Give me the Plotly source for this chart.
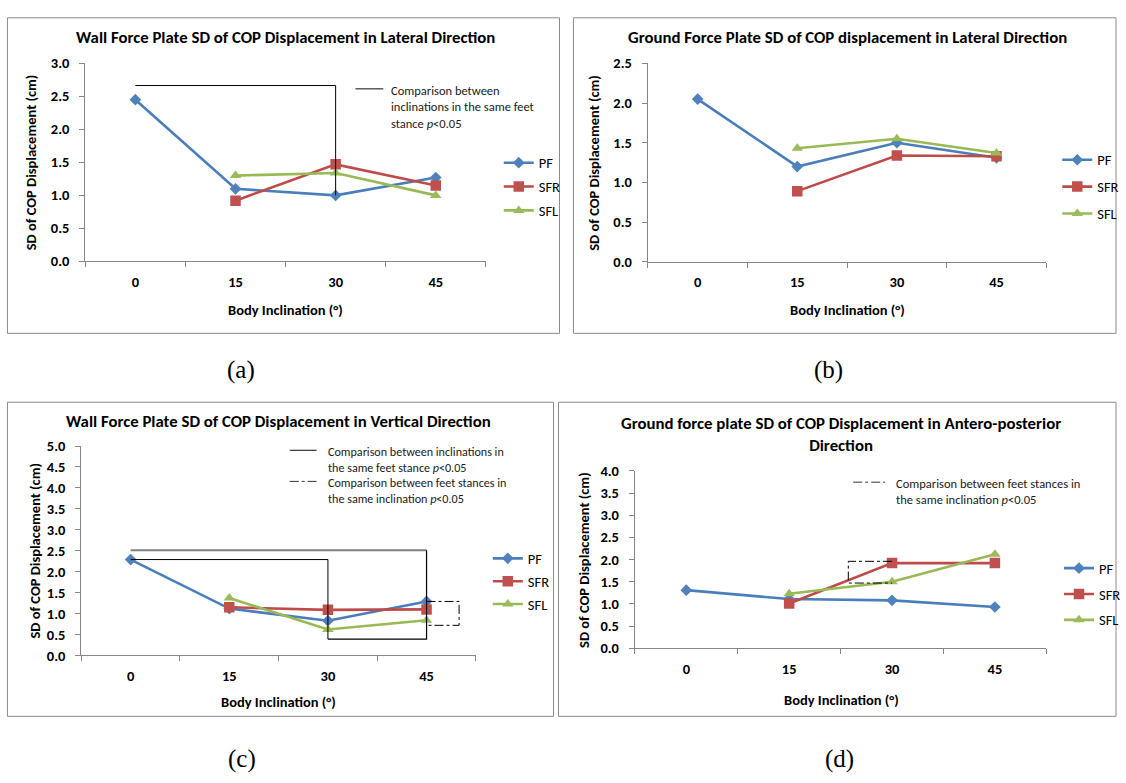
import plotly.graph_objects as go

W, H = 1126, 783

categories = ["0", "15", "30", "45"]
series_names = ["PF", "SFR", "SFL"]

a_pf = [2.45, 1.10, 1.00, 1.27]
a_sfr = [None, 0.92, 1.47, 1.15]
a_sfl = [None, 1.30, 1.34, 1.00]

b_pf = [2.05, 1.20, 1.50, 1.31]
b_sfr = [None, 0.89, 1.34, 1.33]
b_sfl = [None, 1.43, 1.55, 1.37]

c_pf = [2.29, 1.12, 0.83, 1.29]
c_sfr = [None, 1.15, 1.09, 1.10]
c_sfl = [None, 1.37, 0.62, 0.84]

d_pf = [1.31, 1.11, 1.08, 0.93]
d_sfr = [None, 1.01, 1.92, 1.92]
d_sfl = [None, 1.23, 1.50, 2.12]

titles = {
    "a": "Wall Force Plate SD of COP Displacement in Lateral Direction",
    "b": "Ground Force Plate SD of COP displacement in Lateral Direction",
    "c": "Wall Force Plate SD of COP Displacement in Vertical Direction",
    "d": "Ground force plate SD of COP Displacement in Antero-posterior<br>Direction",
}
x_title = "Body Inclination (°)"
y_title = "SD of COP Displacement (cm)"
captions = ["(a)", "(b)", "(c)", "(d)"]

FONT = "Calibri, Carlito, Lato, sans-serif"
COL = {"PF": "#4A7EBB", "SFR": "#BE4B48", "SFL": "#98B954"}
MCOL = {"PF": "#4F81BD", "SFR": "#C0504D", "SFL": "#9BBB59"}
SYM = {"PF": "diamond", "SFR": "square", "SFL": "triangle-up"}
MSIZE = {"PF": 9, "SFR": 10.5, "SFL": 10}
AXC = "#868686"

TITLE_SIZE = 16.8
AXTITLE_SIZE = 14.5
TICK_SIZE = 14.5
LEG_SIZE = 14.5
NOTE_SIZE = 12.5

def X(px):
    return px / W

def Y(py):
    return 1 - py / H

# panel geometry (pixels)
panels = [
    dict(key="a", xs=(85.7, 488), ys=(55.7, 258.3), ymax=3.0,
         data=(a_pf, a_sfr, a_sfl), box=(7.5, 9, 562, 332),
         tpos=(287, 29), xt=(287, 308), yt=(32, 157), leg=(501, 141), gap=2,
         cap=(242, 370)),
    dict(key="b", xs=(650.7, 1051), ys=(55.7, 258.7), ymax=2.5,
         data=(b_pf, b_sfr, b_sfl), box=(576, 9, 1121, 332),
         tpos=(851, 29), xt=(851, 308), yt=(597, 157), leg=(1062, 138), gap=5,
         cap=(832, 370)),
    dict(key="c", xs=(81.7, 478), ys=(447.3, 661.7), ymax=5.0,
         data=(c_pf, c_sfr, c_sfl), box=(7.5, 402.5, 556, 724),
         tpos=(280, 422), xt=(280, 709), yt=(35, 554.5), leg=(490, 546), gap=1,
         cap=(243, 768)),
    dict(key="d", xs=(637.7, 1051), ys=(472.7, 654.3), ymax=4.0,
         data=(d_pf, d_sfr, d_sfl), box=(561, 402.5, 1121, 724),
         tpos=(845, 435), xt=(845, 707), yt=(586, 563.5), leg=(1064, 556), gap=4,
         cap=(843, 768)),
]

fig = go.Figure()
layout = dict(width=W, height=H, margin=dict(l=0, r=0, t=0, b=0),
              paper_bgcolor="white", plot_bgcolor="rgba(0,0,0,0)",
              font=dict(family=FONT, color="#000000"), showlegend=True)
annotations = []
shapes = []

for i, p in enumerate(panels):
    n = "" if i == 0 else str(i + 1)
    xa, ya = "x" + n, "y" + n
    legname = "legend" + n
    for s, vals in zip(series_names, p["data"]):
        fig.add_trace(go.Scatter(
            x=list(range(len(categories))), y=vals, name=s, mode="lines+markers",
            xaxis=xa, yaxis=ya, legend=legname, legendgroup=p["key"] + s,
            line=dict(color=COL[s], width=2.6),
            marker=dict(symbol=SYM[s], size=MSIZE[s], color=MCOL[s],
                        line=dict(width=0)),
            connectgaps=False, hoverinfo="x+y+name"))
    layout["xaxis" + n] = dict(
        domain=[X(p["xs"][0]), X(p["xs"][1])], anchor=ya,
        range=[-0.5, 3.5], tickvals=[0, 1, 2, 3], ticktext=categories,
        ticks="", showline=True, linecolor=AXC, linewidth=1,
        showgrid=False, zeroline=False, ticklabelstandoff=7,
        tickfont=dict(size=TICK_SIZE, weight="bold", family=FONT),
        minor=dict(tickvals=[-0.5, 0.5, 1.5, 2.5, 3.5], ticks="outside",
                   ticklen=5, tickcolor=AXC, showgrid=False),
        fixedrange=True)
    layout["yaxis" + n] = dict(
        domain=[Y(p["ys"][1]), Y(p["ys"][0])], anchor=xa,
        range=[0, p["ymax"]], dtick=0.5, tickformat=".1f",
        ticks="outside", ticklen=5, tickcolor=AXC,
        showline=True, linecolor=AXC, linewidth=1,
        showgrid=False, zeroline=False, ticklabelstandoff=7,
        tickfont=dict(size=TICK_SIZE, weight="bold", family=FONT),
        fixedrange=True)
    layout[legname] = dict(
        x=X(p["leg"][0]), y=Y(p["leg"][1]), xanchor="left", yanchor="top",
        bgcolor="rgba(0,0,0,0)", borderwidth=0, tracegroupgap=p["gap"],
        font=dict(size=LEG_SIZE, family=FONT), itemwidth=30)
    # border
    x0, y0, x1, y1 = p["box"]
    shapes.append(dict(type="rect", xref="paper", yref="paper",
                       x0=X(x0), x1=X(x1), y0=Y(y1), y1=Y(y0),
                       line=dict(color="#8c8c8c", width=1), layer="below"))
    annotations.append(dict(text=titles[p["key"]], x=X(p["tpos"][0]), y=Y(p["tpos"][1]),
                            xref="paper", yref="paper", showarrow=False,
                            xanchor="center", yanchor="middle",
                            font=dict(size=TITLE_SIZE, weight="bold", family=FONT)))
    annotations.append(dict(text=x_title, x=X(p["xt"][0]), y=Y(p["xt"][1]),
                            xref="paper", yref="paper", showarrow=False,
                            xanchor="center", yanchor="middle",
                            font=dict(size=AXTITLE_SIZE, weight="bold", family=FONT)))
    annotations.append(dict(text=y_title, x=X(p["yt"][0]), y=Y(p["yt"][1]),
                            xref="paper", yref="paper", showarrow=False,
                            textangle=-90, xanchor="center", yanchor="middle",
                            font=dict(size=AXTITLE_SIZE, weight="bold", family=FONT)))
    annotations.append(dict(text=captions[i], x=X(p["cap"][0]), y=Y(p["cap"][1]),
                            xref="paper", yref="paper", showarrow=False,
                            xanchor="center", yanchor="middle",
                            font=dict(size=25, family="Liberation Serif, Times New Roman, serif")))

NOTE_FONT = dict(size=NOTE_SIZE, family=FONT, color="#1a1a1a")

# ---- significance brackets (data coordinates) ----
# panel a
shapes.append(dict(type="path", xref="x", yref="y",
                   path="M 0,2.665 L 2,2.665 L 2,1.0",
                   line=dict(color="#000000", width=1)))
shapes.append(dict(type="line", xref="paper", yref="paper",
                   x0=X(357), x1=X(385), y0=Y(81.7), y1=Y(81.7),
                   line=dict(color="#333333", width=1.2)))
annotations.append(dict(text="Comparison between<br>inclinations in the same feet<br>stance <i>p</i><0.05",
                        x=X(391), y=Y(74), xref="paper", yref="paper", showarrow=False,
                        xanchor="left", yanchor="top", align="left", font=NOTE_FONT))
# panel c
shapes.append(dict(type="line", xref="x3", yref="y3", x0=0, x1=3, y0=2.51, y1=2.51,
                   line=dict(color="#7f7f7f", width=2)))
shapes.append(dict(type="path", xref="x3", yref="y3",
                   path="M 3,2.51 L 3,0.39 L 2,0.39",
                   line=dict(color="#000000", width=1.2)))
shapes.append(dict(type="path", xref="x3", yref="y3",
                   path="M 0,2.29 L 2,2.29 L 2,0.39",
                   line=dict(color="#000000", width=1)))
shapes.append(dict(type="path", xref="x3", yref="y3",
                   path="M 3,1.29 L 3.33,1.29 L 3.33,0.72 L 3,0.72",
                   line=dict(color="#000000", width=1, dash="dashdot")))
shapes.append(dict(type="line", xref="paper", yref="paper",
                   x0=X(291), x1=X(318), y0=Y(451.7), y1=Y(451.7),
                   line=dict(color="#333333", width=1.2)))
shapes.append(dict(type="line", xref="paper", yref="paper",
                   x0=X(291), x1=X(318), y0=Y(483.5), y1=Y(483.5),
                   line=dict(color="#333333", width=1, dash="dashdot")))
annotations.append(dict(text=("Comparison between inclinations in<br>the same feet stance <i>p</i><0.05"
                              "<br>Comparison between feet stances in<br>the same inclination <i>p</i><0.05"),
                        x=X(327), y=Y(443.5), xref="paper", yref="paper", showarrow=False,
                        xanchor="left", yanchor="top", align="left",
                        font=dict(size=12.1, family=FONT, color="#1a1a1a")))
# panel d
shapes.append(dict(type="path", xref="x4", yref="y4",
                   path="M 2,1.96 L 1.575,1.96 L 1.575,1.47 L 2,1.47",
                   line=dict(color="#000000", width=1, dash="dashdot")))
shapes.append(dict(type="line", xref="paper", yref="paper",
                   x0=X(857), x1=X(889), y0=Y(484.3), y1=Y(484.3),
                   line=dict(color="#333333", width=1, dash="dashdot")))
annotations.append(dict(text="Comparison between feet stances in<br>the same inclination <i>p</i><0.05",
                        x=X(898), y=Y(475.5), xref="paper", yref="paper", showarrow=False,
                        xanchor="left", yanchor="top", align="left", font=NOTE_FONT))

layout["annotations"] = annotations
layout["shapes"] = shapes
fig.update_layout(**layout)
fig.write_html("out.html")
